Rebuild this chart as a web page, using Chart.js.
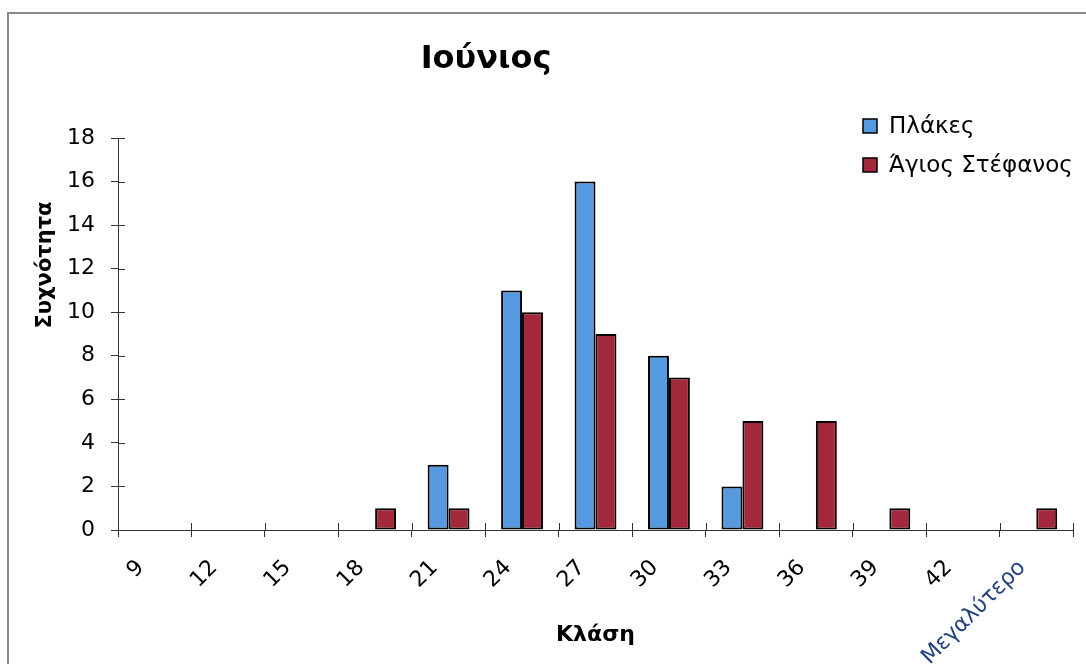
<!DOCTYPE html>
<html>
<head>
<meta charset="utf-8">
<script src="https://cdn.jsdelivr.net/npm/chart.js@4/dist/chart.umd.min.js"></script>
<style>
  html, body { margin: 0; padding: 0; background: #fff; }
  #wrap { position: relative; width: 1086px; height: 664px; }
</style>
</head>
<body>
<div id="wrap"><canvas id="c" width="1086" height="664"></canvas></div>
<script>
// ---- data ----
const categories = ['9', '12', '15', '18', '21', '24', '27', '30', '33', '36', '39', '42', 'Μεγαλύτερο'];
const plakes     = [0, 0, 0, 0, 3, 11, 16, 8, 2, 0, 0, 0, 0];
const agiosStef  = [0, 0, 0, 1, 1, 10, 9, 7, 5, 5, 1, 0, 1];
const seriesNames = ['Πλάκες', 'Άγιος Στέφανος'];
const yTicks = [0, 2, 4, 6, 8, 10, 12, 14, 16, 18];
const chartTitle = 'Ιούνιος';
const xTitle = 'Κλάση';
const yTitle = 'Συχνότητα';

const BLUE = '#5599e0';
const RED = '#a3283c';

const decor = {
  id: 'decor',
  beforeDraw(chart) {
    const ctx = chart.ctx;
    ctx.save();
    ctx.fillStyle = '#fff';
    ctx.fillRect(0, 0, chart.width, chart.height);
    ctx.strokeStyle = '#8a8a8a';
    ctx.lineWidth = 2;
    ctx.beginPath();
    ctx.moveTo(8, chart.height);
    ctx.lineTo(8, 13);
    ctx.lineTo(chart.width, 13);
    ctx.stroke();
    ctx.restore();
  },
  afterDraw(chart) {
    const ctx = chart.ctx;
    const ys = chart.scales.y, xs = chart.scales.x;
    ctx.save();
    ctx.strokeStyle = '#333';
    ctx.lineWidth = 1;
    ctx.beginPath();
    ys.ticks.forEach(t => {
      const y = Math.round(ys.getPixelForValue(t.value)) + 0.5;
      ctx.moveTo(ys.right, y); ctx.lineTo(ys.right + 7, y);
    });
    const n = categories.length;
    for (let i = 0; i <= n; i++) {
      const x = Math.round(xs.left + i * xs.width / n) + 0.5;
      ctx.moveTo(x, xs.top); ctx.lineTo(x, xs.top - 7);
    }
    ctx.stroke();

    // title
    ctx.fillStyle = '#000';
    ctx.font = 'bold 32px "DejaVu Sans"';
    ctx.textAlign = 'center';
    ctx.textBaseline = 'middle';
    ctx.fillText(chartTitle, 486, 60);

    // y title
    ctx.save();
    ctx.translate(46, 265);
    ctx.rotate(-Math.PI / 2);
    ctx.font = 'bold 21px "DejaVu Sans"';
    ctx.fillText(yTitle, 0, 0);
    ctx.restore();

    // legend
    const colors = [BLUE, RED];
    ctx.font = '23px "DejaVu Sans"';
    ctx.textAlign = 'left';
    seriesNames.forEach((name, i) => {
      const cy = 126 + i * 39;
      ctx.fillStyle = colors[i];
      ctx.fillRect(863, cy - 7, 14, 14);
      ctx.strokeStyle = '#000';
      ctx.lineWidth = 1.5;
      ctx.strokeRect(863, cy - 7, 14, 14);
      ctx.fillStyle = '#000';
      ctx.fillText(name, 889, cy + 1);
    });
    ctx.restore();
  }
};

new Chart(document.getElementById('c'), {
  type: 'bar',
  data: {
    labels: categories,
    datasets: [
      { label: seriesNames[0], data: plakes, backgroundColor: BLUE, borderColor: '#000', borderWidth: 2, borderSkipped: false },
      { label: seriesNames[1], data: agiosStef, backgroundColor: RED, borderColor: '#000', borderWidth: 2, borderSkipped: false }
    ]
  },
  options: {
    responsive: false,
    animation: false,
    events: [],
    layout: { padding: { top: 138, right: 13, left: 0, bottom: 0 } },
    datasets: { bar: { categoryPercentage: 0.57, barPercentage: 1.0 } },
    plugins: {
      legend: { display: false },
      title: { display: false },
      tooltip: { enabled: false }
    },
    scales: {
      x: {
        grid: { offset: true, drawOnChartArea: false, drawTicks: true, tickLength: 7, color: '#333' },
        border: { display: true, color: '#333', width: 1 },
        ticks: {
          minRotation: 45, maxRotation: 45, autoSkip: false, padding: 18,
          labelOffset: -14,
          color: (c) => c.index === categories.length - 1 ? '#24427e' : '#000',
          font: { family: 'DejaVu Sans', size: 22 }
        },
        title: { display: true, text: xTitle, color: '#000', font: { family: 'DejaVu Sans', size: 22, weight: 'bold' }, padding: { top: 0, bottom: 16 } },
        afterFit(s) { s.height = 134; }
      },
      y: {
        min: 0, max: 18,
        afterBuildTicks(s) { s.ticks = yTicks.map(v => ({ value: v })); },
        grid: { drawOnChartArea: false, drawTicks: true, tickLength: 7, color: '#333' },
        border: { display: true, color: '#333', width: 1 },
        ticks: { color: '#000', padding: 16, font: { family: 'DejaVu Sans', size: 22 } },
        afterFit(s) { s.width = 118; }
      }
    }
  },
  plugins: [decor]
});
</script>
</body>
</html>
